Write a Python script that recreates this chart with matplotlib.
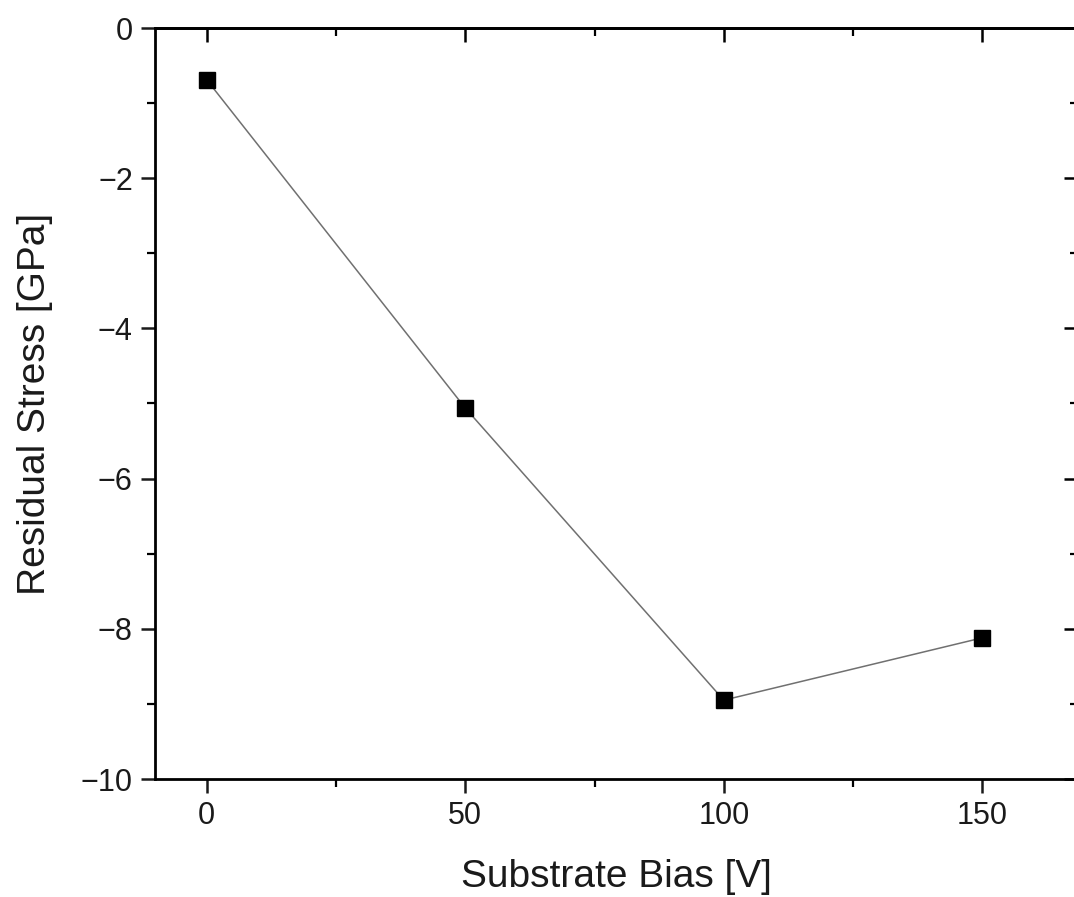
import matplotlib.pyplot as plt
from matplotlib.ticker import MultipleLocator

plt.rcParams['font.family'] = ['Liberation Sans', 'DejaVu Sans']

# residual stress vs. substrate bias
bias_v = [0, 50, 100, 150]
stress_gpa = [-0.69, -5.06, -8.95, -8.12]

fig = plt.figure(figsize=(10.74, 8.97), dpi=100)
ax = fig.add_axes([155 / 1074, 118 / 897, 923 / 1074, 751 / 897])

ax.plot(bias_v, stress_gpa, color='#707070', lw=1.1, zorder=2)
ax.plot(bias_v, stress_gpa, ls='none', marker='s', ms=12, color='black',
        zorder=3)

ax.set_xlim(-10, 168.5)
ax.set_ylim(-10, 0)

ax.xaxis.set_major_locator(MultipleLocator(50))
ax.xaxis.set_minor_locator(MultipleLocator(25))
ax.yaxis.set_minor_locator(MultipleLocator(1))
ax.set_yticks(range(-10, 1, 2))
ax.set_yticklabels(['\u221210', '\u22128', '\u22126', '\u22124', '\u22122', '0'])

for s in ax.spines.values():
    s.set_linewidth(2.0)

ax.tick_params(which='major', direction='out', length=10, width=1.8,
               labelsize=22, pad=6, colors='#1a1a1a')
ax.tick_params(which='minor', direction='out', length=6, width=1.6)

# mirrored ticks on the top and right axes, pointing inward
top = ax.secondary_xaxis('top')
top.xaxis.set_major_locator(MultipleLocator(50))
top.xaxis.set_minor_locator(MultipleLocator(25))
top.tick_params(which='major', direction='in', length=10, width=1.8,
                labeltop=False)
top.tick_params(which='minor', direction='in', length=6, width=1.6)
top.spines['top'].set_linewidth(2.0)

right = ax.secondary_yaxis('right')
right.yaxis.set_major_locator(MultipleLocator(2))
right.yaxis.set_minor_locator(MultipleLocator(1))
right.tick_params(which='major', direction='in', length=10, width=1.8,
                  labelright=False)
right.tick_params(which='minor', direction='in', length=6, width=1.6)

ax.set_xlabel('Substrate Bias [V]', fontsize=28, labelpad=20,
              color='#1a1a1a')
ax.set_ylabel('Residual Stress [GPa]', fontsize=28, labelpad=20,
              color='#1a1a1a')

fig.savefig('out.png', dpi=100)
